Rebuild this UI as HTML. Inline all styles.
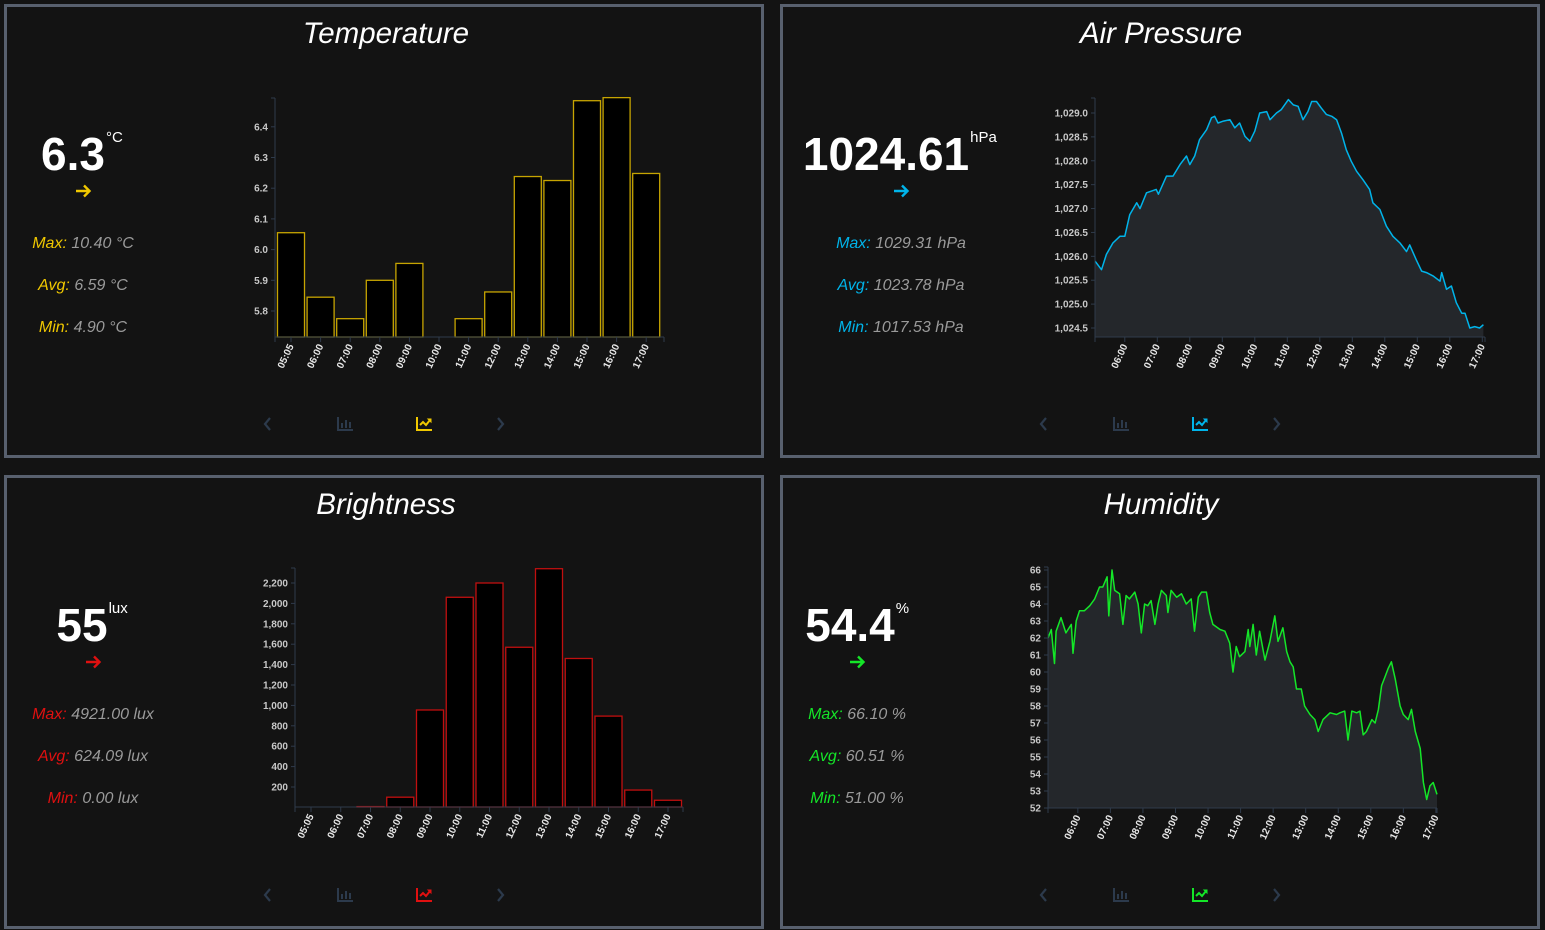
<!DOCTYPE html>
<html><head><meta charset="utf-8"><style>
html,body{margin:0;padding:0;background:#131313;}
svg{display:block;font-family:"Liberation Sans",sans-serif;}
</style></head><body>
<svg id="root" width="1545" height="930" viewBox="0 0 1545 930">
<rect x="0" y="0" width="1545" height="930" fill="#131313"/>
<g fill="none" stroke="#58606e" stroke-width="3">
<rect x="5.5" y="5.5" width="757" height="451"/>
<rect x="781.5" y="5.5" width="757" height="451"/>
<rect x="5.5" y="476.5" width="757" height="451"/>
<rect x="781.5" y="476.5" width="757" height="451"/>
</g>
<g fill="#fff" font-style="italic" font-size="29.5" text-anchor="middle">
<text x="386" y="43">Temperature</text>
<text x="1161" y="43">Air Pressure</text>
<text x="386" y="514">Brightness</text>
<text x="1161" y="514">Humidity</text>
</g>
<g id="charts"></g>
</svg>
<script>
// ---- data ----
const tempCats = ["05:05","06:00","07:00","08:00","09:00","10:00","11:00","12:00","13:00","14:00","15:00","16:00","17:00"];
const tempVals = [6.055,5.845,5.775,5.9,5.955,null,5.775,5.862,6.238,6.225,6.485,6.495,6.248];
const tempTicks = [5.8,5.9,6.0,6.1,6.2,6.3,6.4];
const brightCats = ["05:05","06:00","07:00","08:00","09:00","10:00","11:00","12:00","13:00","14:00","15:00","16:00","17:00"];
const brightVals = [0,3,8,100,955,2060,2200,1570,2340,1460,895,170,70];
const brightTicks = [200,400,600,800,1000,1200,1400,1600,1800,2000,2200];
const presMinutes = [305,317,326,338,351,360,369,382,388,400,418,422,437,449,462,474,480,489,498,511,520,526,532,542,554,563,572,582,591,600,609,622,628,640,649,662,671,680,689,698,705,714,723,732,742,751,760,769,778,788,800,812,818,831,843,855,868,880,886,898,908,917,929,942,945,954,963,972,982,988,997,1006,1015,1022];
const presVals = [1025.9,1025.72,1026.04,1026.28,1026.42,1026.42,1026.87,1027.12,1027.0,1027.33,1027.4,1027.3,1027.68,1027.68,1027.92,1028.1,1027.92,1028.1,1028.44,1028.65,1028.9,1028.93,1028.79,1028.83,1028.86,1028.69,1028.79,1028.51,1028.41,1028.62,1029.0,1029.03,1028.86,1029.0,1029.07,1029.28,1029.17,1029.14,1028.86,1029.03,1029.24,1029.24,1029.1,1028.97,1028.93,1028.86,1028.58,1028.23,1027.99,1027.78,1027.6,1027.4,1027.12,1026.98,1026.63,1026.42,1026.28,1026.1,1026.24,1025.93,1025.69,1025.66,1025.59,1025.48,1025.66,1025.31,1025.38,1025.03,1024.81,1024.81,1024.5,1024.53,1024.5,1024.57];
const presTicks = [1024.5,1025.0,1025.5,1026.0,1026.5,1027.0,1027.5,1028.0,1028.5,1029.0];
const humMinutes = [305,311,317,320,329,338,348,351,357,363,372,382,391,400,406,414,417,423,428,437,443,449,455,465,471,477,483,489,495,502,508,514,523,526,532,542,551,560,569,575,582,588,597,603,609,622,631,640,646,652,658,668,674,677,683,689,695,705,714,723,729,738,745,751,757,763,772,778,788,797,803,812,825,837,843,852,858,865,874,880,886,892,902,908,914,920,926,932,938,945,954,960,969,975,982,991,997,1003,1009,1015,1022];
const humVals = [62.0,62.5,60.5,62.4,63.2,62.3,62.8,61.1,63.0,63.6,63.6,63.9,64.3,65.0,65.0,65.6,63.3,66.0,64.8,64.6,62.8,64.5,64.3,64.7,64.0,62.3,64.0,63.9,64.2,62.8,64.0,64.8,64.5,63.5,64.8,64.4,64.6,64.0,64.3,62.4,64.4,64.7,64.7,63.5,62.8,62.5,62.4,61.7,60.0,61.5,60.9,61.2,62.5,61.5,62.8,61.0,62.4,60.7,61.8,63.3,61.8,62.6,61.2,60.6,60.3,59.0,59.0,58.0,57.5,57.2,56.5,57.2,57.6,57.5,57.6,57.7,56.0,57.7,57.6,57.7,56.3,56.5,57.2,57.0,57.8,59.2,59.7,60.2,60.6,59.6,58.0,57.5,57.2,57.8,56.5,55.5,53.5,52.5,53.3,53.5,52.8];
const humTicks = [52,53,54,55,56,57,58,59,60,61,62,63,64,65,66];
const hourLabels = ["06:00","07:00","08:00","09:00","10:00","11:00","12:00","13:00","14:00","15:00","16:00","17:00"];

const NS="http://www.w3.org/2000/svg";
const root=document.getElementById('charts');
function mk(tag,attrs,parent){const e=document.createElementNS(NS,tag);for(const k in attrs)e.setAttribute(k,attrs[k]);(parent||root).appendChild(e);return e;}
const AX="#2f3b4b", LBL="#c8c8c8";
function fmt(v,dec){return v.toLocaleString('en-US',{minimumFractionDigits:dec,maximumFractionDigits:dec});}

function yAxis(g,x,top,bot,ticks,ys,dec){
  const a=mk('line',{x1:x,y1:top,x2:x,y2:bot,stroke:AX,'stroke-width':1},g);
  
  
  mk('line',{x1:x-4,y1:top,x2:x,y2:top,stroke:AX},g);
  ticks.forEach(t=>{const y=ys(t);
    mk('line',{x1:x-4,y1:y,x2:x,y2:y,stroke:AX},g);
    const tx=mk('text',{x:x-7,y:y+3.5,'text-anchor':'end','font-size':10,'font-weight':'bold',fill:LBL},g);
    tx.textContent=fmt(t,dec);
    
    
  });
}
function xAxis(g,x1,x2,y,labels,xs){
  const a=mk('line',{x1:x1,y1:y,x2:x2,y2:y,stroke:AX},g);
  
  
  mk('line',{x1:x1,y1:y,x2:x1,y2:y+5,stroke:AX},g);
  mk('line',{x1:x2,y1:y,x2:x2,y2:y+5,stroke:AX},g);
  labels.forEach((l,i)=>{const x=xs(l,i);
    mk('line',{x1:x,y1:y,x2:x,y2:y+5,stroke:AX},g);
    const tx=mk('text',{x:x+3,y:y+9,'text-anchor':'end','font-size':10,'font-weight':'bold',fill:'#e8e8e8',transform:`rotate(-65 ${x+3} ${y+9})`},g);
    tx.textContent=l;
    
    
  });
}
function barChart(name,cats,vals,ticks,color,o){
  const g=mk('g',{});
  
  
  const ys=v=>o.y0-(v-o.v0)*o.k;
  const xs=(c,i)=>o.c0+i*o.step;
  cats.forEach((c,i)=>{const v=vals[i]; if(v==null)return;
    const y=ys(v), x=xs(c,i)-o.bw/2;
    const r=mk('rect',{x:x,y:y,width:o.bw,height:Math.max(0,o.bot-y),fill:'#000',stroke:color,'stroke-width':1.3,'stroke-opacity':0.85},g);
    
    
  });
  yAxis(g,o.ax,o.top,o.bot,ticks,ys,o.dec);
  xAxis(g,o.ax,o.axEnd,o.bot,cats,xs);
}
function areaChart(name,mins,vals,ticks,color,o){
  const g=mk('g',{});
  
  
  const xs=m=>o.ax+(m-305)/60*o.hr;
  const ys=v=>o.y0-(v-o.v0)*o.k;
  let d='';
  mins.forEach((m,i)=>{d+=(i?'L':'M')+xs(m).toFixed(1)+','+ys(vals[i]).toFixed(1);});
  const ar=mk('path',{d:d+`L${xs(mins[mins.length-1]).toFixed(1)},${o.bot}L${xs(mins[0]).toFixed(1)},${o.bot}Z`,fill:'#24272b'},g);
  
  
  const ln=mk('path',{d:d,fill:'none',stroke:color,'stroke-width':1.5,'stroke-linejoin':'round'},g);
  
  
  yAxis(g,o.ax,o.top,o.bot,ticks,ys,o.dec);
  xAxis(g,o.ax,o.axEnd,o.bot,hourLabels,(l)=>{const h=parseInt(l);return xs(h*60);});
}

barChart('temperature-chart',tempCats,tempVals,tempTicks,'#e8c000',{ax:275,axEnd:664,top:98,bot:337,y0:311,v0:5.8,k:307,c0:291,step:29.6,bw:27,dec:1});
barChart('brightness-chart',brightCats,brightVals,brightTicks,'#e01010',{ax:295,axEnd:683,top:568,bot:807,y0:807.4,v0:0,k:0.102,c0:311,step:29.75,bw:27,dec:0});
areaChart('pressure-chart',presMinutes,presVals,presTicks,'#00b4ea',{ax:1095,axEnd:1485,top:98,bot:337,y0:328,v0:1024.5,k:47.78,hr:32.5,dec:1});
areaChart('humidity-chart',humMinutes,humVals,humTicks,'#14e628',{ax:1048,axEnd:1437,top:567,bot:808,y0:808,v0:52,k:17,hr:32.55,dec:0});

// stat columns
function stats(prefix,cx,bx,top,big,unit,color,rows){
  const g=mk('g',{});
  
  
  const bt=mk('text',{x:bx,y:top+170,'text-anchor':'middle','font-size':46,'font-weight':'bold',fill:'#fff'},g);
  bt.textContent=big;
  
  
  const w=bt.getComputedTextLength();
  const ut=mk('text',{x:bx+w/2+1,y:top+142,'font-size':15,fill:'#fff'},g);
  ut.textContent=unit;
  
  
  const ar=mk('path',{d:`M${cx-7},${top+191}H${cx+6}M${cx+1},${top+185.5}L${cx+6.5},${top+191}L${cx+1},${top+196.5}`,fill:'none',stroke:color,'stroke-width':2.4},g);
  
  
  rows.forEach((r,i)=>{
    const t=mk('text',{x:cx,y:top+248+i*42,'text-anchor':'middle','font-size':16,'font-style':'italic'},g);
    const a=mk('tspan',{fill:color},t);a.textContent=r[0]+': ';
    const b=mk('tspan',{fill:'#9a9a9a'},t);b.textContent=r[1];
    
    
  });
}
stats('temperature',83,73,0,'6.3','°C','#f0c800',[['Max','10.40 °C'],['Avg','6.59 °C'],['Min','4.90 °C']]);
stats('pressure',901,886,0,'1024.61','hPa','#00b4ea',[['Max','1029.31 hPa'],['Avg','1023.78 hPa'],['Min','1017.53 hPa']]);
stats('brightness',93,82,471,'55','lux','#e01010',[['Max','4921.00 lux'],['Avg','624.09 lux'],['Min','0.00 lux']]);
stats('humidity',857,850,471,'54.4','%','#14e628',[['Max','66.10 %'],['Avg','60.51 %'],['Min','51.00 %']]);

// nav icons
function nav(prefix,ox,y,color){
  const g=mk('g',{});
  
  
  const nc='#2c3a4c';
  const p=mk('path',{d:`M${ox+270},${y-6}L${ox+265},${y}L${ox+270},${y+6}`,fill:'none',stroke:nc,'stroke-width':2.2},g);
  
  
  const b=mk('g',{fill:nc},g);
  
  
  const bx=ox+337;
  mk('rect',{x:bx,y:y-7,width:2,height:14},b);mk('rect',{x:bx,y:y+5,width:16,height:2},b);
  mk('rect',{x:bx+4,y:y-1,width:2,height:5},b);mk('rect',{x:bx+8,y:y-4,width:2,height:8},b);mk('rect',{x:bx+12,y:y-2,width:2,height:6},b);
  const l=mk('g',{},g);
  
  
  const lx=ox+416;
  mk('rect',{x:lx,y:y-7,width:2,height:14,fill:color},l);mk('rect',{x:lx,y:y+5,width:16,height:2,fill:color},l);
  mk('path',{d:`M${lx+4},${y+1}L${lx+7},${y-2}L${lx+10},${y+1}L${lx+14},${y-4}`,fill:'none',stroke:color,'stroke-width':2},l);
  mk('path',{d:`M${lx+12},${y-5}L${lx+15},${y-5}L${lx+15},${y-2}Z`,fill:color,stroke:color},l);
  const n=mk('path',{d:`M${ox+498},${y-6}L${ox+503},${y}L${ox+498},${y+6}`,fill:'none',stroke:nc,'stroke-width':2.2},g);
  
  
}
nav('temperature',0,424,'#f0c800');
nav('pressure',776,424,'#00b4ea');
nav('brightness',0,895,'#e01010');
nav('humidity',776,895,'#14e628');
</script>
</body></html>
